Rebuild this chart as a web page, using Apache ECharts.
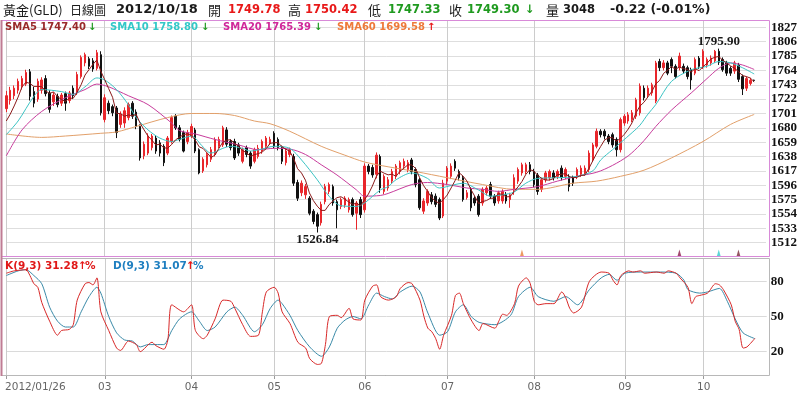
<!DOCTYPE html>
<html><head><meta charset="utf-8">
<script src="https://cdn.jsdelivr.net/npm/echarts@6/dist/echarts.min.js"></script>
<style>html,body{margin:0;padding:0;background:#fff}#c{width:800px;height:395px}</style>
</head><body><div id="c"></div>
<script>
// ---------- categories (trading days) ----------
const monthKeys = ['2012/01','2012/02','2012/03','2012/04','2012/05','2012/06','2012/07','2012/08','2012/09','2012/10'];
const monthDays = [
  [26,27,30,31],
  [1,2,3,6,7,8,9,10,13,14,15,16,17,20,21,22,23,24,27,28,29],
  [1,2,5,6,7,8,9,12,13,14,15,16,19,20,21,22,23,26,27,28,29,30],
  [2,3,4,5,6,9,10,11,12,13,16,17,18,19,20,23,24,25,26,27,30],
  [1,2,3,4,7,8,9,10,11,14,15,16,17,18,21,22,23,24,25,28,29,30,31],
  [1,4,5,6,7,8,11,12,13,14,15,18,19,20,21,22,25,26,27,28,29],
  [2,3,4,5,6,9,10,11,12,13,16,17,18,19,20,23,24,25,26,27,30,31],
  [1,2,3,6,7,8,9,10,13,14,15,16,17,20,21,22,23,24,27,28,29,30,31],
  [3,4,5,6,7,10,11,12,13,14,17,18,19,20,21,24,25,26,27,28],
  [1,2,3,4,5,8,9,10,11,12,15,16,17,18]
];
const tickMonths = ['2012/01','2012/03','2012/04','2012/05','2012/06','2012/07','2012/08','2012/09','2012/10'];
const tickLabels = ['2012/01/26','03','04','05','06','07','08','09','10'];
const yTickKD = [20,50,80];

// ---------- OHLC ----------
const openArr = [
1708,1720,1727,1735,1740,1744,1762,1733,1722,1735,
1752,1731,1718,1726,1716,1730,1720,1738,1731,1755,
1775,1781,1778,1767,1787,1692,1716,1711,1709,1685,
1687,1695,1716,1703,1682,1639,1643,1651,1665,1658,
1653,1643,1660,1697,1680,1673,1660,1668,1677,1648,
1617,1626,1634,1641,1653,1655,1677,1660,1660,1655,
1631,1651,1643,1631,1638,1646,1653,1658,1672,1663,
1651,1629,1641,1638,1600,1585,1582,1577,1558,1553,
1541,1572,1587,1594,1572,1565,1567,1560,1575,1555,
1575,1560,1624,1622,1612,1638,1587,1592,1602,1609,
1616,1624,1619,1633,1619,1604,1558,1570,1582,1580,
1575,1551,1602,1609,1631,1616,1607,1578,1590,1577,
1580,1570,1585,1597,1580,1573,1573,1582,1575,1590,
1602,1614,1616,1626,1616,1611,1590,1604,1607,1614,
1609,1621,1609,1609,1607,1609,1612,1614,1619,1633,
1653,1675,1675,1668,1670,1663,1648,1687,1690,1692,
1697,1702,1738,1728,1731,1719,1777,1768,1775,1780,
1770,1768,1770,1768,1765,1760,1782,1770,1772,1775,
1778,1792,1780,1775,1767,1763,1772,1755,1738,1745,
1749.78];
const highArr = [
1734,1740,1742,1752,1756,1765,1766,1740,1752,1754,
1757,1735,1732,1730,1731,1733,1734,1742,1762,1786,
1790,1784,1782,1794,1792,1729,1720,1714,1712,1704,
1710,1717,1719,1707,1685,1660,1672,1671,1669,1662,
1656,1668,1698,1700,1684,1676,1677,1686,1680,1650,
1637,1644,1652,1666,1667,1683,1681,1663,1664,1658,
1651,1654,1646,1651,1655,1663,1668,1667,1675,1666,
1654,1650,1651,1642,1604,1603,1598,1580,1561,1556,
1572,1598,1600,1597,1575,1578,1580,1578,1578,1573,
1579,1628,1627,1626,1644,1641,1612,1608,1620,1627,
1632,1635,1633,1636,1622,1607,1577,1590,1586,1584,
1578,1604,1624,1628,1634,1619,1610,1589,1593,1580,
1583,1593,1595,1601,1583,1588,1590,1586,1585,1612,
1622,1629,1629,1630,1620,1614,1607,1617,1619,1618,
1619,1625,1622,1612,1610,1622,1625,1625,1647,1658,
1679,1678,1678,1671,1673,1666,1695,1700,1703,1706,
1724,1745,1742,1742,1746,1778,1781,1779,1778,1783,
1773,1790,1774,1771,1768,1783,1785,1795,1783,1786,
1794,1795.9,1783,1778,1770,1778,1775,1758,1755,1753,
1750.42];
const lowArr = [
1703,1714,1722,1730,1736,1741,1720,1710,1718,1730,
1726,1702,1712,1710,1712,1705,1716,1722,1728,1752,
1770,1766,1762,1764,1698,1688,1700,1697,1665,1680,
1680,1691,1693,1678,1632,1634,1640,1647,1642,1638,
1624,1640,1657,1677,1660,1644,1656,1665,1643,1612,
1614,1622,1630,1638,1650,1652,1652,1647,1633,1639,
1628,1637,1620,1628,1635,1642,1650,1655,1650,1647,
1627,1625,1637,1595,1573,1580,1576,1552,1539,1526.84,
1537,1568,1583,1566,1533,1561,1563,1556,1550,1531,
1548,1556,1612,1607,1606,1585,1583,1588,1598,1605,
1612,1620,1615,1612,1593,1560,1554,1566,1568,1564,
1545,1548,1596,1605,1617,1603,1572,1575,1558,1566,
1550,1566,1581,1576,1566,1569,1569,1569,1563,1582,
1598,1610,1612,1612,1593,1582,1586,1600,1603,1603,
1605,1603,1605,1587,1595,1605,1608,1610,1615,1630,
1650,1666,1663,1656,1651,1638,1644,1683,1686,1688,
1693,1698,1720,1724,1727,1716,1763,1764,1757,1760,
1752,1764,1759,1751,1736,1757,1766,1766,1768,1771,
1775,1772,1762,1756,1756,1759,1747,1728,1734,1742,
1747.33];
const closeArr = [
1727,1735,1738,1748,1752,1761,1726,1716,1748,1750,
1730,1707,1728,1714,1728,1716,1731,1727,1758,1783,
1787,1770,1766,1790,1702,1724,1705,1702,1673,1700,
1705,1714,1697,1682,1636,1656,1668,1668,1646,1643,
1629,1665,1695,1680,1663,1646,1673,1682,1646,1614,
1634,1641,1648,1663,1663,1680,1656,1651,1636,1643,
1648,1641,1624,1648,1650,1660,1665,1663,1653,1651,
1631,1646,1648,1599,1577,1599,1594,1555,1543,1536,
1568,1594,1597,1570,1560,1575,1577,1575,1553,1570,
1553,1624,1616,1611,1640,1592,1609,1604,1616,1624,
1629,1631,1629,1616,1597,1563,1573,1587,1572,1568,
1548,1599,1621,1624,1621,1607,1575,1585,1563,1570,
1553,1590,1592,1580,1570,1585,1587,1573,1582,1607,
1619,1626,1626,1616,1597,1587,1604,1614,1616,1607,
1616,1607,1619,1594,1599,1619,1621,1621,1643,1655,
1675,1670,1668,1660,1655,1648,1692,1697,1699,1702,
1721,1741,1724,1738,1743,1775,1768,1775,1760,1770,
1755,1785,1763,1755,1750,1780,1770,1792,1780,1782,
1792,1776,1765,1760,1760,1775,1751,1737,1752,1749.52,
1749.3];

// ---------- moving averages ----------
const sma5 = [
1690,1700,1712,1725,1740,1746.8,1745,1740.6,1740.6,1740.2,
1734,1730.2,1732.6,1725.8,1721.4,1718.6,1723.4,1723.2,1732,1743,
1757.2,1765,1772.8,1779.2,1763,1750.4,1737.4,1724.6,1701.2,1700.8,
1697,1698.8,1697.8,1699.6,1686.8,1677,1667.8,1662,1654.8,1656.2,
1650.8,1650.2,1655.6,1662.4,1666.4,1669.8,1671.4,1668.8,1662,1652.2,
1649.8,1643.4,1636.6,1640,1649.8,1659,1662,1662.6,1657.2,1653.2,
1646.8,1643.8,1638.4,1640.8,1642.2,1644.6,1649.4,1657.2,1658.2,1658.4,
1652.6,1648.8,1645.8,1635,1620.2,1613.8,1603.4,1584.8,1573.6,1565.4,
1559.2,1559.2,1567.6,1573,1577.8,1579.2,1575.8,1571.4,1568,1570,
1565.6,1575,1583.2,1594.8,1608.8,1616.6,1613.6,1611.2,1612.2,1609,
1616.4,1620.8,1625.8,1625.8,1620.4,1607.2,1595.6,1587.2,1578.4,1572.6,
1569.6,1574.8,1581.6,1592,1602.6,1614.4,1609.6,1602.4,1590.2,1580,
1569.2,1572.2,1573.6,1577,1577,1583.4,1582.8,1579,1579.4,1586.8,
1593.6,1601.4,1612,1618.8,1616.8,1610.4,1606,1603.6,1603.6,1605.6,
1611.4,1612,1613,1608.6,1607,1607.6,1610.4,1610.8,1620.6,1631.8,
1643,1652.8,1662.2,1665.6,1665.6,1660.2,1664.6,1670.4,1678.2,1687.6,
1702.2,1712,1717.4,1725.2,1733.4,1744.2,1749.6,1759.8,1764.2,1769.6,
1765.6,1769,1766.6,1765.6,1761.6,1766.6,1763.6,1769.4,1774.4,1780.8,
1783.2,1784.4,1779,1775,1770.6,1767.2,1762.2,1756.6,1755,1752.9,
1747.4];
const sma10 = [[0,1670],[3,1690],[7,1726],[9,1736],[14,1733],[17,1729],[20,1740],[23,1753],[25,1750],[28,1736],[31,1714],[33,1695],[36,1677],[39,1665],[42,1660],[44,1663],[47,1668],[50,1652],[52,1643],[55,1650],[57,1653],[60,1650],[62,1646],[65,1649],[68,1653],[72,1650],[75,1633],[79,1604],[82,1580],[85,1566],[89,1565],[91,1570],[95,1589],[97,1594],[99,1604],[103,1614],[107,1606],[110,1592],[114,1597],[116,1599],[120,1589],[123,1580],[126,1582],[129,1586],[132,1599],[135,1606],[140,1607],[145,1609],[149,1617],[151,1633],[154,1648],[156,1658],[159,1673],[161,1684],[163,1700],[165,1714],[169,1748],[174,1765],[178,1770],[181,1777],[184,1775],[187,1768],[190,1758.8]];
const sma20 = [[0,1639],[4,1677],[9,1704],[15,1724],[20,1736],[23,1744],[26,1740],[31,1727],[36,1714],[42,1687],[44,1676],[48,1671],[53,1663],[59,1655],[64,1648],[68,1650],[72,1649],[76,1641],[80,1626],[84,1611],[89,1589],[91,1580],[95,1581],[97,1584],[103,1597],[107,1600],[112,1597],[117,1592],[121,1590],[125,1587],[129,1590],[135,1594],[140,1602],[145,1609],[150,1615],[154,1625],[158,1639],[161,1655],[163,1668],[165,1682],[169,1706],[174,1731],[178,1752],[181,1767],[184,1775],[187,1772],[190,1765.39]];
const sma60 = [[0,1671],[9,1666],[15,1668],[24,1672],[28,1674],[33,1682],[41,1695],[47,1701],[53,1701],[58,1698],[63,1690],[67,1686],[72,1675],[80,1653],[86,1640],[91,1630],[97,1623],[104,1616],[112,1607],[121,1597],[129,1590],[135,1590],[144,1599],[150,1602],[156,1609],[162,1618],[169,1636],[177,1660],[184,1685],[190,1699.58]];

// ---------- KD ----------
const kLine = [[0,87],[2,89],[5,90],[6,85],[7,78],[8,75],[9,62],[11,46],[13,34],[14,38],[16,39],[17,43],[18,64],[20,78],[21,79],[22,77],[23,83],[24,54],[26,38],[28,23],[29,21],[31,29],[33,26],[34,20],[37,28],[38,25],[40,22],[41,30],[42,60],[45,54],[47,60],[48,38],[50,31],[51,34],[53,48],[55,64],[57,63],[58,57],[60,43],[62,33],[64,34],[65,54],[66,71],[68,75],[69,70],[70,54],[72,44],[74,28],[76,23],[77,14],[79,9],[80,10],[81,26],[82,50],[84,51],[85,49],[87,57],[88,48],[90,47],[91,64],[93,76],[94,77],[95,67],[97,64],[99,67],[100,74],[102,79],[103,78],[105,64],[106,50],[107,40],[108,37],[109,31],[110,22],[111,34],[113,51],[114,68],[115,70],[116,61],[118,47],[120,38],[121,44],[124,40],[125,46],[126,52],[127,51],[129,61],[130,76],[132,83],[133,78],[134,63],[135,60],[137,61],[139,61],[141,71],[142,66],[143,57],[144,53],[146,58],[148,80],[151,88],[153,87],[154,81],[155,77],[156,85],[158,89],[159,88],[161,89],[162,87],[165,88],[167,87],[168,89],[170,87],[171,83],[173,75],[174,61],[175,67],[176,68],[178,70],[180,78],[181,77],[182,73],[184,60],[185,46],[186,39],[187,23],[188,24],[190,31.28]];
const dLine = [[0,85],[3,89],[5,90],[7,85],[9,78],[11,58],[13,46],[15,41],[17,41],[19,54],[21,67],[23,75],[24,70],[26,50],[28,36],[30,30],[32,29],[34,24],[36,26],[39,26],[40,26],[42,38],[44,48],[47,54],[49,46],[51,38],[53,41],[56,54],[58,58],[60,51],[63,37],[65,43],[67,57],[69,64],[70,61],[72,51],[74,38],[77,24],[80,16],[82,24],[84,40],[86,47],[88,50],[90,48],[92,60],[94,70],[96,67],[98,65],[100,71],[103,76],[105,71],[107,53],[110,34],[112,37],[114,54],[116,60],[118,50],[120,45],[124,43],[128,51],[130,67],[133,75],[135,67],[139,63],[142,67],[145,60],[148,73],[151,83],[153,86],[155,81],[157,87],[161,88],[166,88],[170,87],[172,81],[173,73],[176,70],[178,71],[181,74],[183,63],[185,48],[187,36],[190,31.07]];

// signal markers at panel bottom
const signalIdx = [131,171,181,186];
const signalVal = [1497,1497,1497,1497];
const signalCol = ['#e8803a','#8b1a4a','#33cccc','#7a2a3a'];

// ---------- texts ----------
const titleParts = ['黃金(GLD)','日線圖','2012/10/18','開','1749.78','高','1750.42','低','1747.33','收','1749.30','↓','量','3048','-0.22 (-0.01%)'];
const smaLegend = ['SMA5 1747.40','SMA10 1758.80','SMA20 1765.39','SMA60 1699.58'];
const smaArrow = ['↓','↓','↓','↑'];
const kdLegend = ['K(9,3) 31.28','D(9,3) 31.07'];

// ---------- build ----------
const categories = [];
monthKeys.forEach((m, k) => monthDays[k].forEach(d => categories.push(m + '/' + (d < 10 ? '0' + d : d))));
const xCats = categories.concat([' ', '  ', '   ']);
const tickMap = new Map();
tickMonths.forEach((m, k) => { const idx = categories.findIndex(c => c.startsWith(m)); tickMap.set(idx, tickLabels[k]); });
const isTick = (idx) => tickMap.has(idx);

const candleData = openArr.map((o, i) => [o, closeArr[i], lowArr[i], highArr[i]]);

const C = {sma5:'#8b1a1a', sma10:'#3cc4c4', sma20:'#c83c9c', sma60:'#e2a06a', k:'#d82828', d:'#3a8aa8',
  red:'#e81818', green:'#1f9a1f', ink:'#1a1a1a'};

function txt(text, x, y, font, fill) {
  return {type:'text', x:x, y:y, silent:true, z:100, style:{text:text, font:font, fill:fill, align:'left', verticalAlign:'middle'}};
}
const CJK = '13px "Noto Sans CJK TC"';
const NUM = 'bold 11.5px "DejaVu Sans"';
const LEG = 'bold 10px "DejaVu Sans"';
const graphics = [
  txt(titleParts[0], 3, 10, CJK, C.ink),
  txt(titleParts[1], 70, 10, '12px "Noto Sans CJK TC"', C.ink),
  txt(titleParts[2], 116, 10, 'bold 13px "DejaVu Sans"', C.ink),
  txt(titleParts[3], 208, 10, CJK, C.ink),
  txt(titleParts[4], 228, 10, NUM, C.red),
  txt(titleParts[5], 288, 10, CJK, C.ink),
  txt(titleParts[6], 305, 10, NUM, C.red),
  txt(titleParts[7], 368, 10, CJK, C.ink),
  txt(titleParts[8], 388, 10, NUM, C.green),
  txt(titleParts[9], 449, 10, CJK, C.ink),
  txt(titleParts[10], 467, 10, NUM, C.green),
  txt(titleParts[11], 525, 10, NUM, C.green),
  txt(titleParts[12], 546, 10, CJK, C.ink),
  txt(titleParts[13], 563, 10, NUM, C.ink),
  txt(titleParts[14], 610, 10, 'bold 12.5px "DejaVu Sans"', C.ink),
  txt(smaLegend[0], 5, 27, LEG, '#9a2a2a'),
  txt(smaArrow[0], 88, 27, LEG, C.green),
  txt(smaLegend[1], 110, 27, LEG, '#33c8c8'),
  txt(smaArrow[1], 201, 27, LEG, C.green),
  txt(smaLegend[2], 223, 27, LEG, '#d0289a'),
  txt(smaArrow[2], 314, 27, LEG, C.green),
  txt(smaLegend[3], 337, 27, LEG, '#ee7a3a'),
  txt(smaArrow[3], 427, 27, LEG, C.red),
  txt(kdLegend[0], 5, 266, 'bold 10.5px "DejaVu Sans"', '#e01818'),
  txt('↑', 78, 266, 'bold 10.5px "DejaVu Sans"', C.red),
  txt('%', 85, 266, 'bold 10.5px "DejaVu Sans"', '#e01818'),
  txt(kdLegend[1], 113, 266, 'bold 10.5px "DejaVu Sans"', '#1f7fc0'),
  txt('↑', 186, 266, 'bold 10.5px "DejaVu Sans"', C.red),
  txt('%', 193, 266, 'bold 10.5px "DejaVu Sans"', '#1f7fc0'),
  {type:'rect', silent:true, z:90, shape:{x:1.5, y:20.5, width:768, height:236}, style:{fill:null, stroke:'#d88ad8', lineWidth:1}},
  {type:'rect', silent:true, z:89, shape:{x:1.5, y:258.5, width:768, height:117}, style:{fill:null, stroke:'#b8b8b8', lineWidth:1}},
  {type:'line', silent:true, z:91, shape:{x1:1.5, y1:20, x2:1.5, y2:376}, style:{stroke:'#c07c94', lineWidth:2}}
];

const chart = echarts.init(document.getElementById('c'), null, {renderer:'canvas'});
const labelFont = {color:'#111', fontFamily:'Liberation Serif', fontWeight:'bold', fontSize:13};
chart.setOption({
  animation:false,
  backgroundColor:'#ffffff',
  grid:[{left:6.3, top:21, width:760.4, height:236}, {left:6.3, top:258, width:760.4, height:117}],
  xAxis:[
    {type:'category', gridIndex:0, data:xCats, boundaryGap:false,
     axisLine:{show:false}, axisTick:{show:false}, axisLabel:{show:false},
     splitLine:{show:true, interval:isTick, lineStyle:{color:'#cccccc', width:1}}},
    {type:'category', gridIndex:1, data:xCats, boundaryGap:false,
     axisLine:{show:true, lineStyle:{color:'#9a9a9a'}},
     axisTick:{show:true, interval:isTick, length:4, lineStyle:{color:'#9a9a9a'}},
     axisLabel:{interval:isTick, margin:7, color:'#666', fontFamily:'DejaVu Sans', fontSize:10.5,
       formatter:(v, idx) => { const l = tickMap.get(idx) || ''; return idx === 0 ? '{first|' + l + '}' : l; },
       rich:{first:{padding:[0,0,0,58], color:'#666', fontFamily:'DejaVu Sans', fontSize:10.5}}},
     splitLine:{show:true, interval:isTick, lineStyle:{color:'#cccccc', width:1}}}
  ],
  yAxis:[
    {type:'value', gridIndex:0, position:'right', min:1491, max:1836.3, interval:21,
     axisLine:{show:false}, axisTick:{show:false},
     axisLabel:Object.assign({showMinLabel:false, showMaxLabel:false, margin:5, formatter:(v) => String(v)}, labelFont),
     splitLine:{show:true, showMinLine:false, showMaxLine:false, lineStyle:{color:'#dedede', width:1}}},
    {type:'value', gridIndex:1, position:'right', min:0, max:100, interval:10,
     axisLine:{show:false}, axisTick:{show:false},
     axisLabel:Object.assign({margin:4, formatter:(v) => yTickKD.includes(v) ? String(v) : ''}, labelFont),
     splitLine:{show:true, lineStyle:{color:['rgba(0,0,0,0)','rgba(0,0,0,0)','#dadada'], width:1}}}
  ],
  series:[
    {type:'candlestick', name:'GLD', xAxisIndex:0, yAxisIndex:0, data:candleData, barWidth:2, clip:false, z:2,
     itemStyle:{color:'#e8262b', color0:'#111111', borderColor:'#e8262b', borderColor0:'#111111', borderWidth:1},
     markPoint:{symbol:'rect', symbolSize:1, itemStyle:{color:'rgba(0,0,0,0)'},
       label:{show:true, color:'#1a1a1a', fontFamily:'Liberation Serif', fontWeight:'bold', fontSize:13,
              formatter:(p) => Number(p.value).toFixed(2)},
       data:[{type:'max', valueDim:'highest', label:{position:'top', distance:0}},
             {type:'min', valueDim:'lowest', label:{position:'bottom', distance:0}}]}},
    {type:'line', name:'SMA60', xAxisIndex:0, yAxisIndex:0, data:sma60, showSymbol:false, smooth:0.3, z:3, lineStyle:{width:1, color:C.sma60}},
    {type:'line', name:'SMA20', xAxisIndex:0, yAxisIndex:0, data:sma20, showSymbol:false, smooth:0.3, z:3, lineStyle:{width:1, color:C.sma20}},
    {type:'line', name:'SMA10', xAxisIndex:0, yAxisIndex:0, data:sma10, showSymbol:false, smooth:0.3, z:3, lineStyle:{width:1, color:C.sma10}},
    {type:'line', name:'SMA5', xAxisIndex:0, yAxisIndex:0, data:sma5, showSymbol:false, z:4, lineStyle:{width:1, color:C.sma5}},
    {type:'scatter', name:'signal', xAxisIndex:0, yAxisIndex:0, symbol:'triangle', symbolSize:[4,7], z:5,
     data:signalIdx.map((i, k) => ({value:[i, signalVal[k]], itemStyle:{color:signalCol[k]}}))},
    {type:'line', name:'D', xAxisIndex:1, yAxisIndex:1, data:dLine, showSymbol:false, smooth:0.25, z:3, lineStyle:{width:1, color:C.d}},
    {type:'line', name:'K', xAxisIndex:1, yAxisIndex:1, data:kLine, showSymbol:false, smooth:0.25, z:4, lineStyle:{width:1, color:C.k}}
  ],
  graphic:graphics
});
</script>
</body></html>
